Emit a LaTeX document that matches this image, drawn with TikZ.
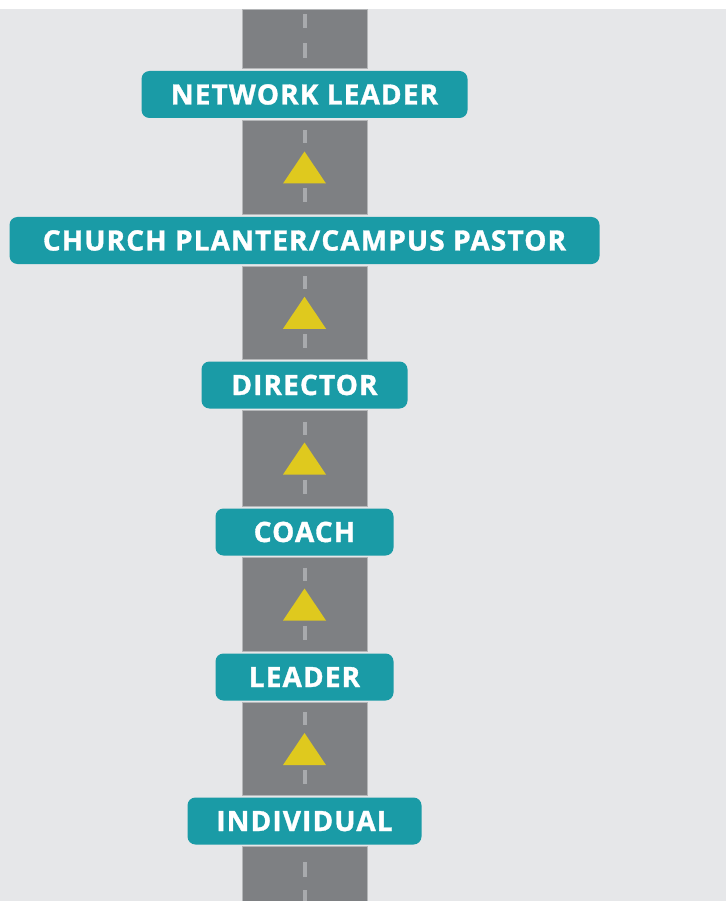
\documentclass[tikz,border=0pt]{standalone}
\usepackage{fontspec}
\setmainfont{Open Sans}
\newfontfamily\signfont[LetterSpace=4,FakeBold=1.2]{Open Sans Bold}
\usetikzlibrary{calc,backgrounds}

\definecolor{paper}{HTML}{E6E7E9}
\definecolor{asphalt}{HTML}{7E8083}
\definecolor{kerb}{HTML}{B4B6B8}
\definecolor{lanemark}{HTML}{A8AAAD}
\definecolor{signteal}{HTML}{1A9BA6}
\definecolor{signyellow}{HTML}{DFC91E}

\tikzset{
  rank/.style={fill=signteal, text=white, rounded corners=8pt, inner sep=0pt,
    minimum height=47pt, text height=20pt, text depth=0pt,
    font=\signfont\fontsize{28}{28}\selectfont},
  road/.style={fill=asphalt, draw=kerb, line width=0.8pt},
  lane/.style={draw=lanemark, line width=4pt},
  upsign/.style={fill=signyellow},
}

\begin{document}
\begin{tikzpicture}[x=1pt,y=-1pt]
  \useasboundingbox (0,0) rectangle (726,901);
  \node[rank, minimum width=326pt] (net) at (304.5,94.5) {NETWORK LEADER};
  \node[rank, minimum width=590pt] (church) at (304.5,240.5) {CHURCH PLANTER/CAMPUS PASTOR};
  \node[rank, minimum width=206pt] (dir) at (304.5,385) {DIRECTOR};
  \node[rank, minimum width=178pt] (coach) at (304.5,532) {COACH};
  \node[rank, minimum width=178pt] (lead) at (304.5,677) {LEADER};
  \node[rank, minimum width=234pt] (ind) at (304.5,821) {INDIVIDUAL};

  \begin{scope}[on background layer]
    \fill[white] (0,0) rectangle (726,901);
    \fill[paper] (0,9) rectangle (726,901);
    % road ends above and below
    \fill[road] (242,9) rectangle ($(net.north)+(62.5,-2)$);
    \draw[lane] (304.5,14) -- (304.5,28);
    \draw[lane] (304.5,43) -- (304.5,58);
    \fill[road] ($(ind.south)+(-62.5,2)$) rectangle (367,905);
    \draw[lane] (304.5,862) -- (304.5,877);
    \draw[lane] (304.5,890) -- (304.5,905);
    % one stretch of road between two ranks
    \foreach \lo/\hi in {ind/lead, lead/coach, coach/dir, dir/church, church/net} {
      \filldraw[road] ($(\hi.south)+(-62.5,2)$) rectangle ($(\lo.north)+(62.5,-2)$);
      \coordinate (m) at ($(\hi.south)!0.5!(\lo.north)$);
      \draw[lane] ($(m)+(0,-37)$) -- ($(m)+(0,-24)$);
      \draw[lane] ($(m)+(0,21)$) -- ($(m)+(0,35)$);
      \fill[upsign] ($(m)+(-21.5,16)$) -- ($(m)+(0,-16)$) -- ($(m)+(21.5,16)$) -- cycle;
    }
  \end{scope}
\end{tikzpicture}
\end{document}
